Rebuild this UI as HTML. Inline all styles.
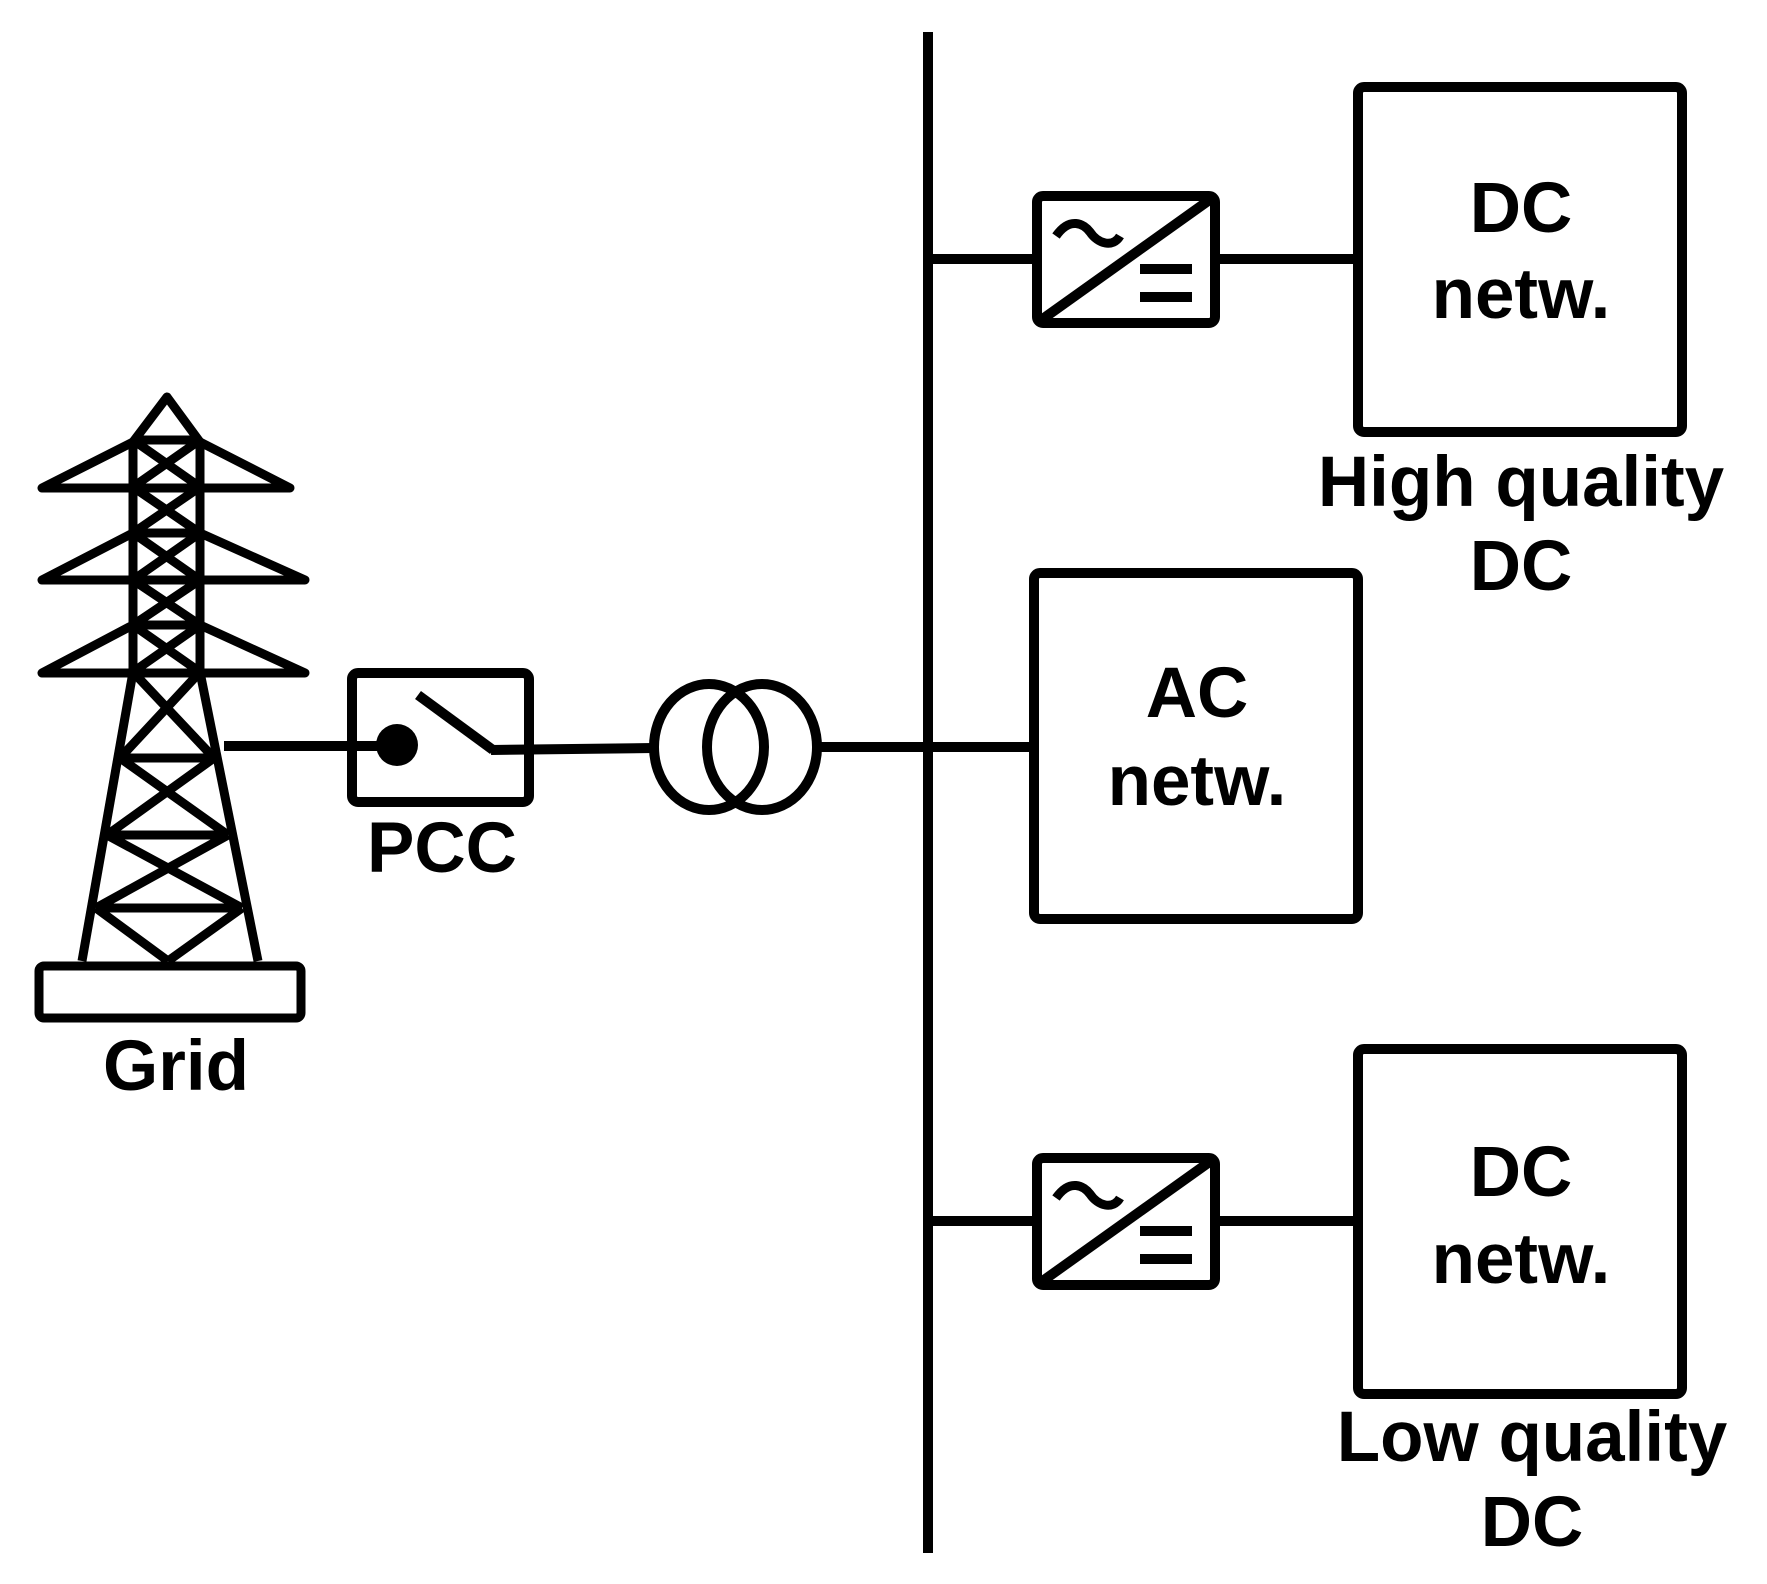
<!DOCTYPE html>
<html><head><meta charset="utf-8"><style>html,body{margin:0;padding:0;background:#fff}svg{display:block}</style></head>
<body>
<svg width="1767" height="1584" viewBox="0 0 1767 1584" xmlns="http://www.w3.org/2000/svg" font-family="Liberation Sans, sans-serif" font-weight="bold" font-size="71" text-anchor="middle">
<g stroke="#000" stroke-width="10" fill="none" stroke-linejoin="round" stroke-linecap="butt">
<line x1="928" y1="32" x2="928" y2="1553"/>
<line x1="928" y1="259" x2="1037" y2="259"/>
<line x1="1215" y1="259" x2="1358" y2="259"/>
<rect x="1037" y="196" width="178" height="127" rx="6"/>
<line x1="1037" y1="323" x2="1215" y2="196"/>
<path d="M1056 236 C1070 216,1084 224,1090 232 C1098 244,1113 248,1120 236" stroke-width="9"/>
<line x1="1140" y1="269" x2="1192" y2="269" stroke-width="10"/>
<line x1="1140" y1="297" x2="1192" y2="297" stroke-width="10"/>
<rect x="1358" y="87" width="324" height="345" rx="6"/>
<g transform="translate(0,962)">
<line x1="928" y1="259" x2="1037" y2="259"/>
<line x1="1215" y1="259" x2="1358" y2="259"/>
<rect x="1037" y="196" width="178" height="127" rx="6"/>
<line x1="1037" y1="323" x2="1215" y2="196"/>
<path d="M1056 236 C1070 216,1084 224,1090 232 C1098 244,1113 248,1120 236" stroke-width="9"/>
<line x1="1140" y1="269" x2="1192" y2="269" stroke-width="10"/>
<line x1="1140" y1="297" x2="1192" y2="297" stroke-width="10"/>
<rect x="1358" y="87" width="324" height="345" rx="6"/>
</g>
<line x1="928" y1="747" x2="1034" y2="747"/>
<rect x="1034" y="573" width="324" height="346" rx="6"/>
<line x1="820" y1="747" x2="928" y2="747"/>
<ellipse cx="709" cy="747" rx="55" ry="63"/>
<ellipse cx="762" cy="747" rx="55" ry="63"/>
<line x1="491" y1="750" x2="654" y2="748"/>
<rect x="352" y="673" width="177" height="129" rx="6"/>
<line x1="224" y1="746" x2="396" y2="746"/>
<line x1="418" y1="695" x2="493" y2="750"/>
<g stroke-width="9">
<polyline points="133,442 167,397 200,442"/>
<line x1="133" y1="440" x2="133" y2="672"/>
<line x1="200" y1="440" x2="200" y2="672"/>
<line x1="133" y1="440" x2="200" y2="440"/>
<line x1="133" y1="533" x2="200" y2="533"/>
<line x1="133" y1="625" x2="200" y2="625"/>
<path d="M133 440L200 487M200 440L133 487M133 487L200 533M200 487L133 533M133 533L200 580M200 533L133 580M133 580L200 625M200 580L133 625M133 625L200 672M200 625L133 672"/>
<path d="M133 442L42 488L290 488L200 442"/>
<path d="M133 533L42 580L305 580L200 533"/>
<path d="M133 625L42 673L305 673L200 625"/>
<line x1="133" y1="672" x2="82" y2="961"/>
<line x1="200" y1="672" x2="258" y2="961"/>
<path d="M120 758L214 758M107 835L228 835M96 908L242 908"/>
<path d="M133 672L214 758M200 672L120 758M120 758L228 835M214 758L107 835M107 835L242 908M228 835L96 908M96 908L168 961M242 908L168 961"/>
<rect x="39" y="966" width="262" height="52" rx="5"/>
</g>
</g>
<circle cx="397" cy="745" r="21" fill="#000"/>
<g fill="#000">
<text x="1521" y="232">DC</text>
<text x="1521" y="318">netw.</text>
<text x="1521" y="506">High quality</text>
<text x="1521" y="590">DC</text>
<text x="1197" y="717">AC</text>
<text x="1197" y="805">netw.</text>
<text x="1521" y="1196">DC</text>
<text x="1521" y="1283">netw.</text>
<text x="1532" y="1461">Low quality</text>
<text x="1532" y="1546">DC</text>
<text x="442" y="872">PCC</text>
<text x="176" y="1090">Grid</text>
</g>
</svg>
</body></html>
